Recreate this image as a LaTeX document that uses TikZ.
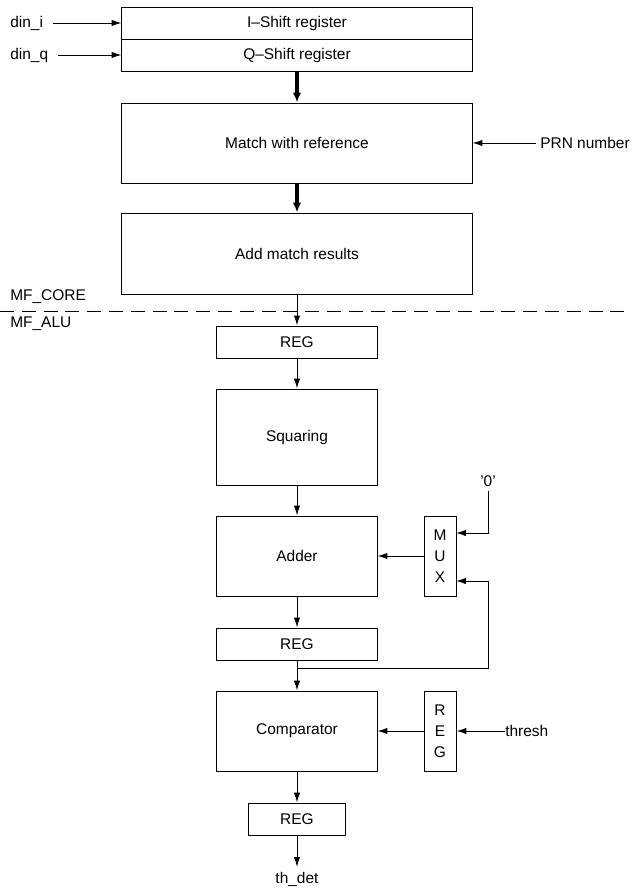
\documentclass[tikz,border=0pt]{standalone}
\usepackage{fontspec}
\setmainfont{Liberation Sans}
\usetikzlibrary{arrows.meta}

\begin{document}
\begin{tikzpicture}[x=0.025cm,y=-0.025cm,font=\fontsize{11}{15}\selectfont,
  blk/.style={draw,line width=0.7pt,inner sep=0pt},
  lbl/.style={inner sep=0pt},
  arr/.style={-{Latex[length=7pt,width=4.5pt]},line width=0.7pt},
  fat/.style={-{Latex[length=7pt,width=6pt]},line width=2.4pt}]
\useasboundingbox (0,0) rectangle (640,889);

\node[blk,minimum width=8.75cm,minimum height=0.8cm] (IS) at (297,23) {I–Shift register};
\node[blk,minimum width=8.75cm,minimum height=0.8cm] (QS) at (297,55) {Q–Shift register};
\node[blk,minimum width=8.75cm,minimum height=2cm] (MR) at (297,143) {Match with reference};
\node[blk,minimum width=8.75cm,minimum height=2.025cm] (AM) at (297,253.5) {Add match results};

\node[lbl,anchor=west] (DI) at (10,23) {din\_i};
\node[lbl,anchor=west] (DQ) at (10,55) {din\_q};
\node[lbl,anchor=west] (PRN) at (540,143) {PRN number};

\node[lbl,anchor=west] (CORE) at (10,297) {MF\_CORE};
\node[lbl,anchor=west] (ALU) at (10,324) {MF\_ALU};
\draw[line width=0.6pt,dash pattern=on 10pt off 5.5pt] (0,311) -- (628,311);

\node[blk,minimum width=4cm,minimum height=0.8cm] (R1) at (297,342) {REG};
\node[blk,minimum width=4cm,minimum height=2.4cm] (SQ) at (297,437) {Squaring};
\node[blk,minimum width=4cm,minimum height=2cm] (AD) at (297,556) {Adder};
\node[blk,minimum width=0.8cm,minimum height=2cm,align=center] (MX) at (440,556) {M\\U\\X};
\node (Z) at (488,481) {'0'};
\node[blk,minimum width=4cm,minimum height=0.8cm] (R2) at (297,644) {REG};
\node[blk,minimum width=4cm,minimum height=2cm] (CP) at (297,731) {Comparator};
\node[blk,minimum width=0.8cm,minimum height=2cm,align=center] (RT) at (440,731) {R\\E\\G};
\node[lbl,anchor=west] (TH) at (505,731) {thresh};
\node[blk,minimum width=2.4cm,minimum height=0.8cm] (R3) at (297,819) {REG};
\node (TD) at (297,879) {th\_det};

\coordinate (FB) at (297,668);
\coordinate (M0) at (456,533);
\coordinate (M1) at (456,581);

\draw[arr,shorten <=7pt] (DI.east) -- (DI.east -| IS.west);
\draw[arr,shorten <=7pt] (DQ.east) -- (DQ.east -| QS.west);
\draw[arr,shorten <=3pt] (PRN.west) -- (PRN.west -| MR.east);
\draw[fat] (QS) -- (MR);
\draw[fat] (MR) -- (AM);
\draw[arr] (AM) -- (R1);
\draw[arr] (R1) -- (SQ);
\draw[arr] (SQ) -- (AD);
\draw[arr] (Z.south) |- (M0);
\draw[arr] (MX) -- (AD);
\draw[arr] (AD) -- (R2);
\draw[arr] (R2) -- (CP);
\draw[arr] (FB) -- (FB -| Z) |- (M1);
\draw[arr] (TH.west) -- (TH.west -| RT.east);
\draw[arr] (RT) -- (CP);
\draw[arr] (CP) -- (R3);
\draw[arr] (R3) -- (TD);
\end{tikzpicture}
\end{document}
